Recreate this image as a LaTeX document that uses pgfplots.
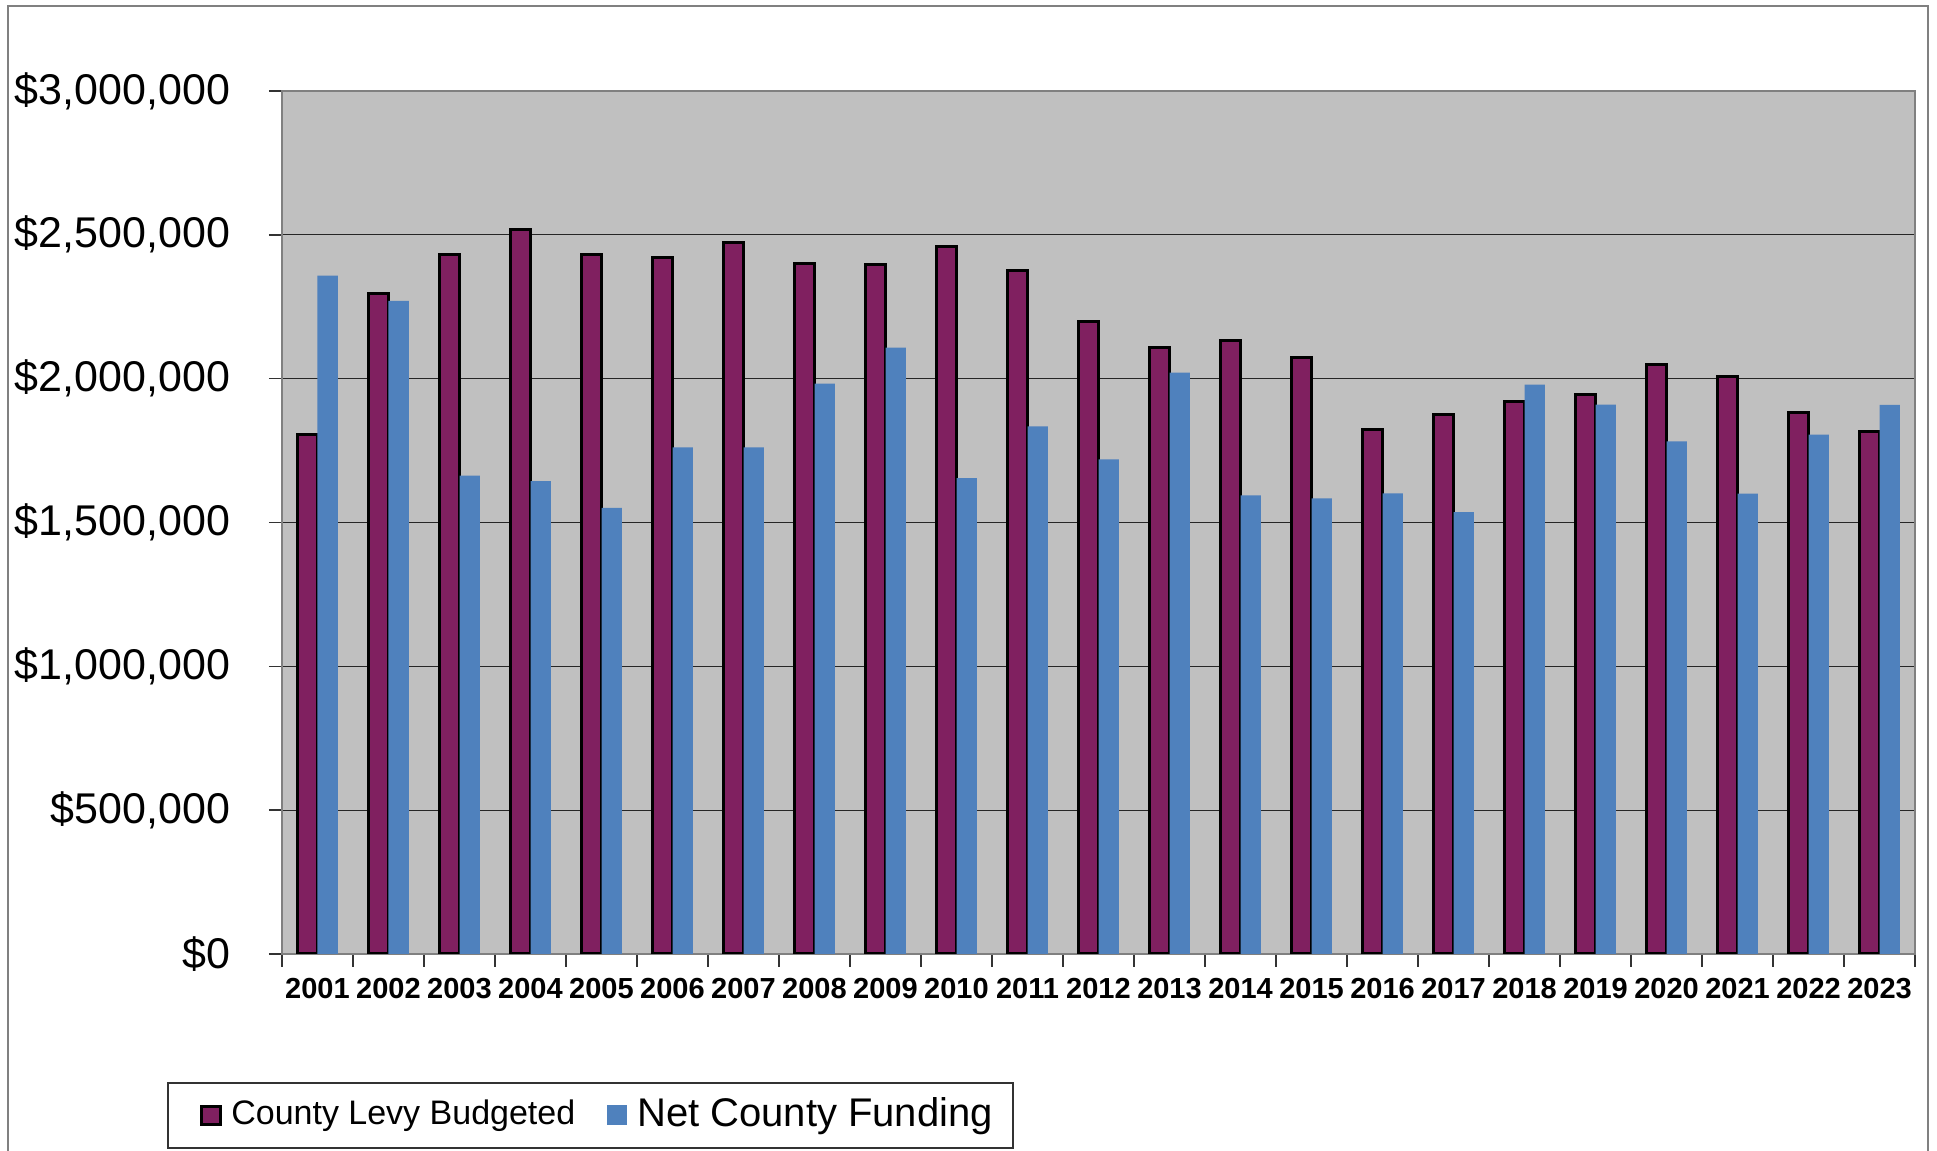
\documentclass[border=0pt]{standalone}
\usepackage{fontspec}
\setmainfont{Liberation Sans}
\usepackage{pgfplots}
\pgfplotsset{compat=1.18}
\definecolor{levy}{HTML}{802060}
\definecolor{netc}{HTML}{4F81BD}
\definecolor{plotbg}{HTML}{C0C0C0}
\definecolor{framec}{HTML}{808080}
\begin{document}
\begin{tikzpicture}
\useasboundingbox (0,0) rectangle (484.25pt,287.75pt);
\draw[framec, line width=0.5pt] (1.875pt,-1pt) -- (1.875pt,286.25pt) -- (482pt,286.25pt) -- (482pt,-1pt);
\begin{axis}[
  at={(70.5pt,49.25pt)}, anchor=south west,
  scale only axis, width=408.25pt, height=215.75pt,
  xmin=-0.5, xmax=22.5, ymin=0, ymax=3000000,
  ybar=0pt, bar width=0.286,
  axis background/.style={fill=plotbg},
  axis line style={draw=framec, line width=0.6pt},
  ymajorgrids, grid style={black!85, line width=0.3pt},
  tick align=outside, major tick length=3.25pt,
  tick style={black!80, line width=0.4pt},
  tick pos=left,
  xtick={-0.5,0.5,1.5,2.5,3.5,4.5,5.5,6.5,7.5,8.5,9.5,10.5,11.5,12.5,13.5,14.5,15.5,16.5,17.5,18.5,19.5,20.5,21.5,22.5},
  xticklabels={2001,2002,2003,2004,2005,2006,2007,2008,2009,2010,2011,2012,2013,2014,2015,2016,2017,2018,2019,2020,2021,2022,2023,{}},
  xticklabel style={font=\bfseries\fontsize{7.25}{8}\selectfont, anchor=base, inner sep=0pt, xshift=8.875pt, yshift=-7.875pt},
  ytick={0,500000,1000000,1500000,2000000,2500000,3000000},
  yticklabels={{\$0},{\$500,000},{\$1,000,000},{\$1,500,000},{\$2,000,000},{\$2,500,000},{\$3,000,000}},
  yticklabel style={font=\fontsize{10.75}{12}\selectfont, anchor=east, inner sep=0pt, xshift=-9.5pt},
  scaled y ticks=false,
  legend columns=2,
  legend style={
    at={(-0.07042,-0.14832)}, anchor=north west,
    draw=black!80, line width=0.5pt, fill=white,
    inner xsep=5pt, inner ysep=0pt,
    nodes={inner xsep=0pt, inner ysep=0pt, minimum height=16.25pt, anchor=west},
    /tikz/every odd column/.append style={column sep=2.45pt},
    /tikz/every even column/.append style={column sep=8pt},
  },
]
\addplot[fill=levy, draw=black, line width=0.75pt,
  legend image code/.code={\path (0pt,0pt); \draw[fill=levy, draw=black, line width=0.75pt] (2.975pt,-2.25pt) rectangle (7.625pt,2.25pt);}]
  coordinates {
  (0,1806000) (1,2297000) (2,2432000) (3,2518000) (4,2431000) (5,2420000)
  (6,2475000) (7,2402000) (8,2397000) (9,2459000) (10,2375000) (11,2198000)
  (12,2109000) (13,2131000) (14,2072000) (15,1822000) (16,1874000) (17,1920000)
  (18,1944000) (19,2050000) (20,2009000) (21,1883000) (22,1816000)};
\addlegendentry{\fontsize{8.5}{10}\selectfont County Levy Budgeted}
\addplot[fill=netc, draw=none,
  legend image code/.code={\fill[netc] (0pt,-2.5pt) rectangle (5pt,2.5pt);}]
  coordinates {
  (0,2358000) (1,2270000) (2,1663000) (3,1644000) (4,1551000) (5,1761000)
  (6,1761000) (7,1983000) (8,2108000) (9,1654000) (10,1834000) (11,1719000)
  (12,2021000) (13,1594000) (14,1584000) (15,1601000) (16,1536000) (17,1979000)
  (18,1910000) (19,1782000) (20,1600000) (21,1805000) (22,1909000)};
\addlegendentry{\fontsize{10}{12}\selectfont Net County Funding}
\end{axis}
\end{tikzpicture}
\end{document}
